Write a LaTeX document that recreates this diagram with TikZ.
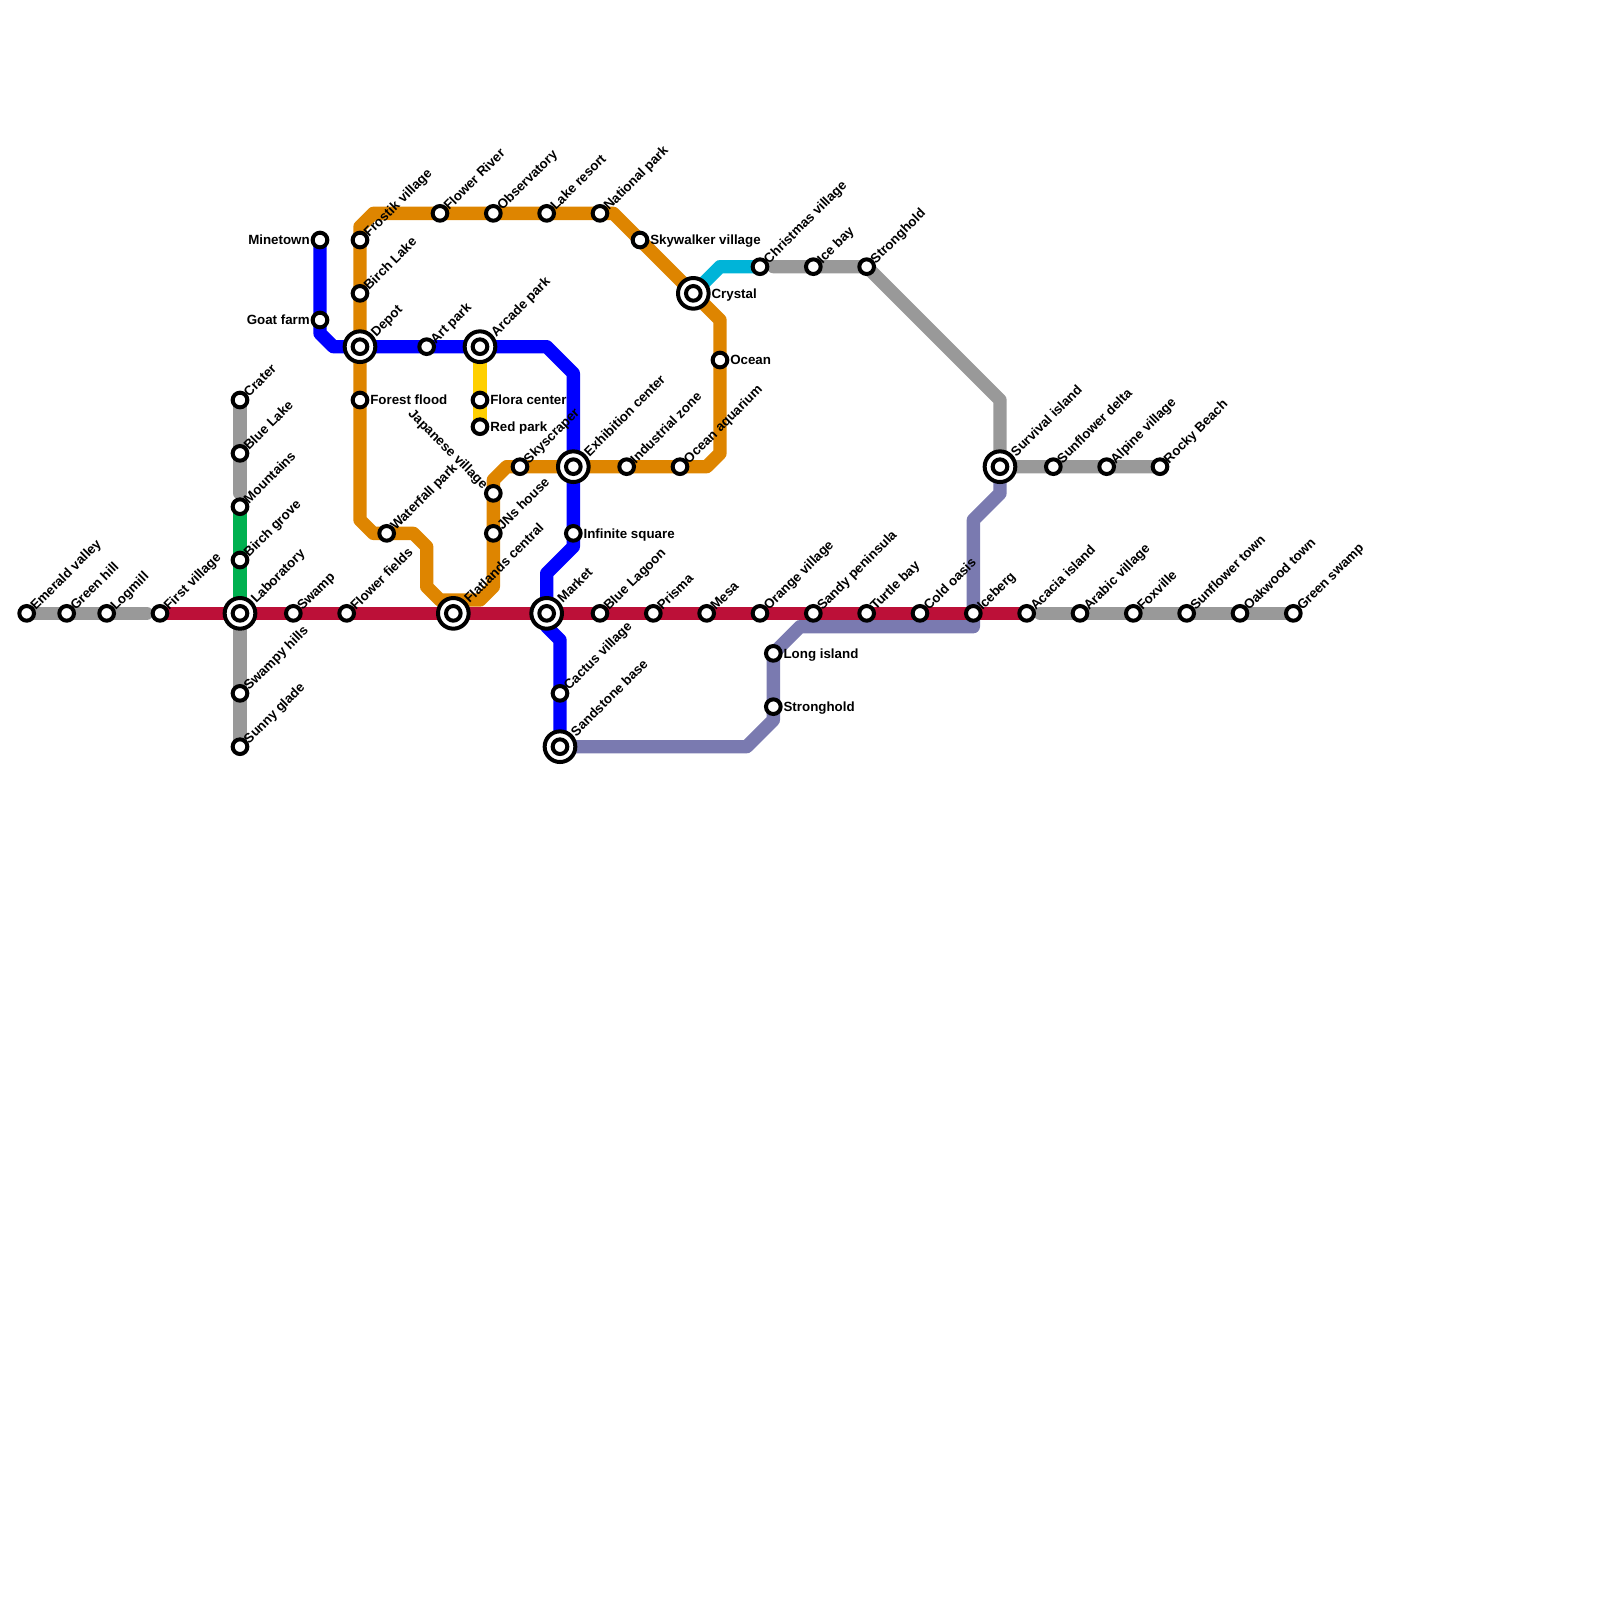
\documentclass[tikz,border=0pt]{standalone}
\usepackage{fontspec}
\setmainfont{Liberation Sans}
\usetikzlibrary{backgrounds}
\definecolor{zgray}{RGB}{153, 153, 153}
\definecolor{zred}{RGB}{188, 16, 56}
\definecolor{zorange}{RGB}{222, 133, 0}
\definecolor{zblue}{RGB}{0, 0, 255}
\definecolor{zyellow}{RGB}{255, 208, 0}
\definecolor{zgreen}{RGB}{0, 177, 80}
\definecolor{zpurple}{RGB}{122, 122, 176}
\definecolor{zcyan}{RGB}{0, 180, 216}

\begin{document}
\begin{tikzpicture}[
  x=1mm, y=-1mm,
  stn/.style={circle, draw=black, fill=white, line width=0.3mm, minimum size=1.1mm, inner sep=0pt},
  hub/.style={circle, draw=black, fill=white, line width=0.3mm, minimum size=2.3mm, inner sep=0pt},
  every label/.style={font=\fontsize{2.845}{3.4}\selectfont\bfseries, inner sep=0pt, text height=2.05pt, text depth=0pt},
  lup/.style={anchor=west, rotate=45, xshift=-0.15mm},
  lhub/.style={anchor=west, rotate=45},
  lrt/.style={anchor=west},
  llt/.style={anchor=east},
  ldn/.style={anchor=east, rotate=-45},
  tube/.style={line width=1mm, line cap=round, line join=round}
]
\useasboundingbox (0,0) rectangle (120,120);

% west branch and main line
\node[stn, label={[lup]45:Emerald valley}] (emerald) at (2,46) {};
\node[stn, label={[lup]45:Green hill}] (greenhill) at (5,46) {};
\node[stn, label={[lup]45:Logmill}] (logmill) at (8,46) {};
\coordinate (logend) at (11,46);
\node[stn, label={[lup]45:First village}] (firstv) at (12,46) {};
\node[hub, label={[lhub]45:Laboratory}] (lab) at (18,46) {};
\node[stn] (labin) at (lab) {};
\node[stn, label={[lup]45:Swamp}] (swamp) at (22,46) {};
\node[stn, label={[lup]45:Flower fields}] (flowerf) at (26,46) {};
\node[hub, label={[lhub]45:Flatlands central}] (flatlands) at (34,46) {};
\node[stn] (flatlandsin) at (flatlands) {};
\node[hub, label={[lhub]45:Market}] (market) at (41,46) {};
\node[stn] (marketin) at (market) {};
\node[stn, label={[lup]45:Blue Lagoon}] (lagoon) at (45,46) {};
\node[stn, label={[lup]45:Prisma}] (prisma) at (49,46) {};
\node[stn, label={[lup]45:Mesa}] (mesa) at (53,46) {};
\node[stn, label={[lup]45:Orange village}] (orangev) at (57,46) {};
\node[stn, label={[lup]45:Sandy peninsula}] (sandy) at (61,46) {};
\node[stn, label={[lup]45:Turtle bay}] (turtle) at (65,46) {};
\node[stn, label={[lup]45:Cold oasis}] (cold) at (69,46) {};
\node[stn, label={[lup]45:Iceberg}] (iceberg) at (73,46) {};
\node[stn, label={[lup]45:Acacia island}] (acacia) at (77,46) {};
\coordinate (eaststart) at (78,46);
\node[stn, label={[lup]45:Arabic village}] (arabic) at (81,46) {};
\node[stn, label={[lup]45:Foxville}] (foxville) at (85,46) {};
\node[stn, label={[lup]45:Sunflower town}] (suntown) at (89,46) {};
\node[stn, label={[lup]45:Oakwood town}] (oakwood) at (93,46) {};
\node[stn, label={[lup]45:Green swamp}] (greensw) at (97,46) {};

% vertical at the laboratory
\node[stn, label={[lup]45:Crater}] (crater) at (18,30) {};
\node[stn, label={[lup]45:Blue Lake}] (bluelake) at (18,34) {};
\coordinate (grayend) at (18,37);
\node[stn, label={[lup]45:Mountains}] (mountains) at (18,38) {};
\node[stn, label={[lup]45:Birch grove}] (birchg) at (18,42) {};
\node[stn, label={[lup]45:Swampy hills}] (swampy) at (18,52) {};
\node[stn, label={[lup]45:Sunny glade}] (sunny) at (18,56) {};

% orange loop
\node[stn, label={[lup]45:Frostik village}] (frostik) at (27,18) {};
\node[stn, label={[lup]45:Birch Lake}] (birchl) at (27,22) {};
\node[hub, label={[lhub]45:Depot}] (depot) at (27,26) {};
\node[stn] (depotin) at (depot) {};
\node[stn, label={[lrt]0:Forest flood}] (forest) at (27,30) {};
\node[stn, label={[lup]45:Waterfall park}] (waterfall) at (29,40) {};
\node[stn, label={[ldn]135:Japanese village}] (japanese) at (37,37) {};
\node[stn, label={[lup]45:JNs house}] (jns) at (37,40) {};
\node[stn, label={[lup]45:Skyscraper}] (skyscraper) at (39,35) {};
\node[hub, label={[lhub]45:Exhibition center}] (exhibition) at (43,35) {};
\node[stn] (exhibitionin) at (exhibition) {};
\node[stn, label={[lup]45:Industrial zone}] (industrial) at (47,35) {};
\node[stn, label={[lup]45:Ocean aquarium}] (aquarium) at (51,35) {};
\node[stn, label={[lrt]0:Ocean}] (ocean) at (54,27) {};
\node[hub, label={[lrt]0:Crystal}] (crystal) at (52,22) {};
\node[stn] (crystalin) at (crystal) {};
\node[stn, label={[lrt]0:Skywalker village}] (skywalker) at (48,18) {};
\node[stn, label={[lup]45:National park}] (national) at (45,16) {};
\node[stn, label={[lup]45:Lake resort}] (lake) at (41,16) {};
\node[stn, label={[lup]45:Observatory}] (observatory) at (37,16) {};
\node[stn, label={[lup]45:Flower River}] (flowerr) at (33,16) {};

\coordinate (o1) at (27,17);
\coordinate (o2) at (28,16);
\coordinate (o3) at (46,16);
\coordinate (o4) at (54,24);
\coordinate (o5) at (54,34);
\coordinate (o6) at (53,35);
\coordinate (o7) at (38,35);
\coordinate (o8) at (37,36);
\coordinate (o9) at (37,44);
\coordinate (o10) at (36,45);
\coordinate (o11) at (33,45);
\coordinate (o12) at (32,44);
\coordinate (o13) at (32,41);
\coordinate (o14) at (31,40);
\coordinate (o15) at (28,40);
\coordinate (o16) at (27,39);

% blue line
\node[stn, label={[llt]180:Minetown}] (minetown) at (24,18) {};
\node[stn, label={[llt]180:Goat farm}] (goat) at (24,24) {};
\node[stn, label={[lup]45:Art park}] (artpark) at (32,26) {};
\node[hub, label={[lhub]45:Arcade park}] (arcade) at (36,26) {};
\node[stn] (arcadein) at (arcade) {};
\node[stn, label={[lrt]0:Infinite square}] (infinite) at (43,40) {};
\node[stn, label={[lup]45:Cactus village}] (cactus) at (42,52) {};
\node[hub, label={[lhub]45:Sandstone base}] (sandstone) at (42,56) {};
\node[stn] (sandstonein) at (sandstone) {};

\coordinate (b1) at (24,25);
\coordinate (b2) at (25,26);
\coordinate (b3) at (41,26);
\coordinate (b4) at (43,28);
\coordinate (b5) at (43,41);
\coordinate (b6) at (41,43);
\coordinate (b7) at (41,47);
\coordinate (b8) at (42,48);

% yellow
\node[stn, label={[lrt]0:Flora center}] (flora) at (36,30) {};
\node[stn, label={[lrt]0:Red park}] (redpark) at (36,32) {};

% north-east gray and cyan
\node[stn, label={[lup]45:Christmas village}] (christmas) at (57,20) {};
\coordinate (graystart) at (58,20);
\coordinate (c1) at (54,20);
\node[stn, label={[lup]45:Ice bay}] (icebay) at (61,20) {};
\node[stn, label={[lup]45:Stronghold}] (stronghold) at (65,20) {};
\coordinate (g1) at (75,30);
\node[hub, label={[lhub]45:Survival island}] (survival) at (75,35) {};
\node[stn] (survivalin) at (survival) {};
\node[stn, label={[lup]45:Sunflower delta}] (sundelta) at (79,35) {};
\node[stn, label={[lup]45:Alpine village}] (alpine) at (83,35) {};
\node[stn, label={[lup]45:Rocky Beach}] (rocky) at (87,35) {};

% purple line
\node[stn, label={[lrt]0:Long island}] (longisl) at (58,49) {};
\node[stn, label={[lrt]0:Stronghold}] (stronghold2) at (58,53) {};
\coordinate (p1) at (56,56);
\coordinate (p2) at (58,54);
\coordinate (p3) at (60,47);
\coordinate (p4) at (73,47);
\coordinate (p5) at (73,39);
\coordinate (p6) at (75,37);

\begin{scope}[on background layer]
  \draw[tube, zgray] (emerald.center) -- (logend);
  \draw[tube, zgray] (eaststart) -- (greensw.center);
  \draw[tube, zgray] (crater.center) -- (grayend);
  \draw[tube, zgray] (lab.center) -- (sunny.center);
  \draw[tube, zgray] (graystart) -- (stronghold.center) -- (g1) -- (survival.center) -- (rocky.center);
  \draw[tube, zgreen] (mountains.center) -- (lab.center);
  \draw[tube, zyellow] (arcade.center) -- (redpark.center);
  \draw[tube, zcyan] (crystal.center) -- (c1) -- (christmas.center);
  \draw[tube, zorange] (frostik.center) -- (o1) -- (o2) -- (o3) -- (crystal.center) -- (o4) -- (o5) -- (o6) -- (o7) -- (o8)
    -- (o9) -- (o10) -- (o11) -- (o12) -- (o13) -- (o14) -- (o15) -- (o16) -- (frostik.center);
  \draw[tube, zblue] (minetown.center) -- (b1) -- (b2) -- (b3) -- (b4) -- (b5) -- (b6) -- (b7) -- (b8) -- (sandstone.center);
  \draw[tube, zpurple] (sandstone.center) -- (p1) -- (p2) -- (longisl.center) -- (p3) -- (p4) -- (p5) -- (p6) -- (survival.center);
  \draw[tube, zred] (firstv.center) -- (acacia.center);
\end{scope}

\end{tikzpicture}
\end{document}
